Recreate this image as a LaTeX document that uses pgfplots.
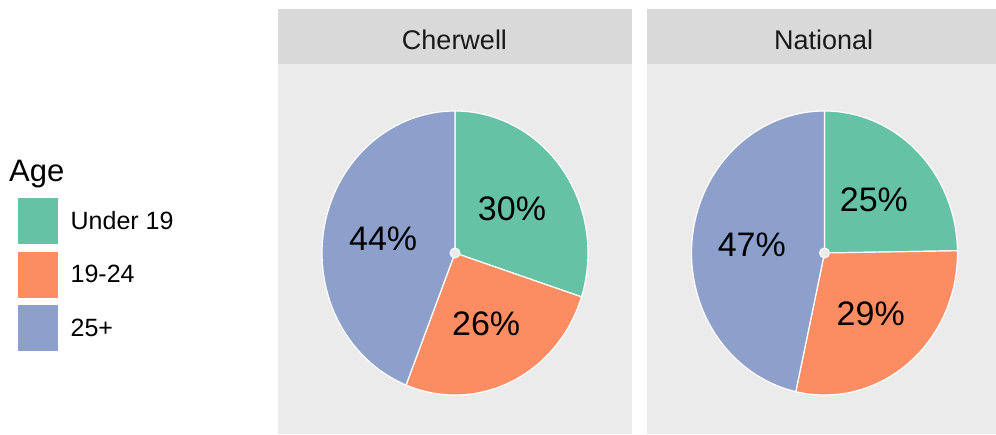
\documentclass[border=0pt]{standalone}
\usepackage{pgfplots}
\pgfplotsset{compat=1.18}
\usepackage{fontspec}
\setmainfont{Liberation Sans}
\definecolor{cA}{HTML}{66C2A5}
\definecolor{cB}{HTML}{FC8D62}
\definecolor{cC}{HTML}{8DA0CB}
\definecolor{panel}{HTML}{EBEBEB}
\definecolor{strip}{HTML}{D9D9D9}
\definecolor{striptext}{HTML}{1A1A1A}

% data (percent shares by age group)
\def\cherA{30}\def\cherB{26}\def\cherC{44}
\def\natA{25}\def\natB{29}\def\natC{47}

\pgfplotsset{
  pieaxis/.style={scale only axis, width=354pt, height=370pt, anchor=origin,
    hide axis, xmin=-1.331, xmax=1.331, ymin=-1.2746, ymax=1.331, clip=false},
  slice/.style={draw=white, line width=1.2pt, line join=round, samples=120, variable=\t, forget plot},
}
\tikzset{
  pielabel/.style={font=\fontsize{34}{34}\selectfont, text=black},
  hub/.style={circle, fill=panel, draw=white, line width=1pt, minimum size=10pt, inner sep=0pt},
}

\begin{document}
\begin{tikzpicture}
\path[use as bounding box] (0pt,0pt) rectangle (996pt,434pt);
\fill[panel] (277.5pt,0pt) rectangle (631.5pt,370pt);
\fill[strip] (277.5pt,370pt) rectangle (631.5pt,424.5pt);
\fill[panel] (646.7pt,0pt) rectangle (1000.7pt,370pt);
\fill[strip] (646.7pt,370pt) rectangle (1000.7pt,424.5pt);
\node[anchor=base, inner sep=0pt, font=\fontsize{27}{27}\selectfont, text=striptext] at (454.5pt,384pt) {Cherwell};
\node[anchor=base, inner sep=0pt, font=\fontsize{27}{27}\selectfont, text=striptext] at (823.7pt,384pt) {National};
\node[anchor=base west, inner sep=0pt, font=\fontsize{31}{31}\selectfont] at (9pt,252pt) {Age};

% ---- Cherwell ----
\pgfmathsetmacro\tot{\cherA+\cherB+\cherC}
\pgfmathsetmacro\eA{90-360*\cherA/\tot}
\pgfmathsetmacro\eB{\eA-360*\cherB/\tot}
\pgfmathsetmacro\mA{(90+\eA)/2}
\pgfmathsetmacro\mB{(\eA+\eB)/2}
\pgfmathsetmacro\mC{(\eB-270)/2}
\begin{axis}[pieaxis, at={(455pt,181pt)},
  legend image code/.code={\fill[#1] (0pt,-23pt) rectangle (40pt,23pt);},
  legend style={at={(-0.7359,0.6378)}, anchor=north west, draw=none, fill=none,
    inner sep=0pt, row sep=7.5pt, font=\fontsize{25}{25}\selectfont,
    /tikz/every odd column/.append style={column sep=11pt}},
  legend cell align=left]
\addplot[slice, fill=cA, domain=90:\eA] ({cos(\t)},{sin(\t)}) -- (axis cs:0,0) -- cycle;
\addplot[slice, fill=cB, domain=\eA:\eB] ({cos(\t)},{sin(\t)}) -- (axis cs:0,0) -- cycle;
\addplot[slice, fill=cC, domain=\eB:-270] ({cos(\t)},{sin(\t)}) -- (axis cs:0,0) -- cycle;
\node[hub] at (axis cs:0,0) {};
\node[pielabel] at (axis cs:{0.53*cos(\mA)},{0.53*sin(\mA)}) {\cherA\%};
\node[pielabel] at (axis cs:{0.55*cos(\mB)},{0.55*sin(\mB)}) {\cherB\%};
\node[pielabel] at (axis cs:{0.55*cos(\mC)},{0.55*sin(\mC)}) {\cherC\%};
\addlegendimage{draw=none, fill=cA}\addlegendentry{Under 19}
\addlegendimage{draw=none, fill=cB}\addlegendentry{19-24}
\addlegendimage{draw=none, fill=cC}\addlegendentry{25+}
\end{axis}

% ---- National ----
\pgfmathsetmacro\tot{\natA+\natB+\natC}
\pgfmathsetmacro\eA{90-360*\natA/\tot}
\pgfmathsetmacro\eB{\eA-360*\natB/\tot}
\pgfmathsetmacro\mA{(90+\eA)/2}
\pgfmathsetmacro\mB{(\eA+\eB)/2}
\pgfmathsetmacro\mC{(\eB-270)/2}
\begin{axis}[pieaxis, at={(824.5pt,181pt)}]
\addplot[slice, fill=cA, domain=90:\eA] ({cos(\t)},{sin(\t)}) -- (axis cs:0,0) -- cycle;
\addplot[slice, fill=cB, domain=\eA:\eB] ({cos(\t)},{sin(\t)}) -- (axis cs:0,0) -- cycle;
\addplot[slice, fill=cC, domain=\eB:-270] ({cos(\t)},{sin(\t)}) -- (axis cs:0,0) -- cycle;
\node[hub] at (axis cs:0,0) {};
\node[pielabel] at (axis cs:{0.53*cos(\mA)},{0.53*sin(\mA)}) {\natA\%};
\node[pielabel] at (axis cs:{0.55*cos(\mB)},{0.55*sin(\mB)}) {\natB\%};
\node[pielabel] at (axis cs:{0.55*cos(\mC)},{0.55*sin(\mC)}) {\natC\%};
\end{axis}
\end{tikzpicture}
\end{document}
